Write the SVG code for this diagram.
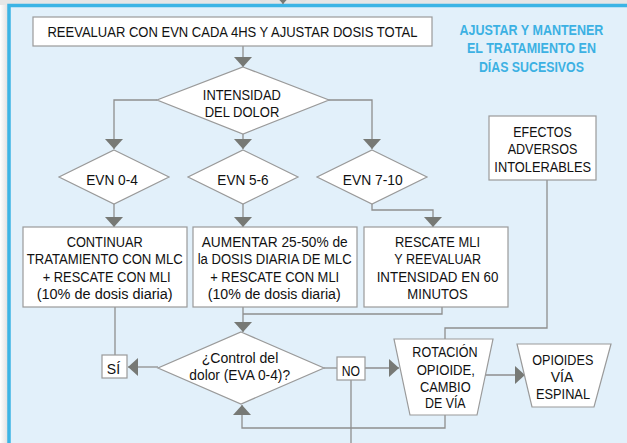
<svg xmlns="http://www.w3.org/2000/svg" width="627" height="443" viewBox="0 0 627 443">
<defs>
<style>
.box{fill:#fff;stroke:#9a9a9a;stroke-width:1.2}
.ln{fill:none;stroke:#8e8e8e;stroke-width:1.3}
text{font-family:"Liberation Sans",Arial,sans-serif;text-anchor:middle}
.t{font-size:15.5px;fill:#111}
.h{font-size:15.5px;font-weight:bold;fill:#3cb1e3}
</style>
<marker id="ah" markerUnits="userSpaceOnUse" markerWidth="10" markerHeight="18" refX="10" refY="9" orient="auto" viewBox="0 0 10 18">
<path d="M0,0 L10,9 L0,18 z" fill="#777975"/>
</marker>
<linearGradient id="sh" x1="0" y1="0" x2="1" y2="0"><stop offset="0" stop-color="#fff"/><stop offset="1" stop-color="#e0e0e0"/></linearGradient>
</defs>
<rect x="0" y="0" width="627" height="443" fill="#fff"/>
<rect x="0" y="0" width="8" height="443" fill="url(#sh)"/>
<rect x="0" y="0" width="627" height="5" fill="#e6e6e6"/>
<rect x="9" y="5.5" width="630" height="450" fill="#e2f0fa" stroke="#3cb4e5" stroke-width="3.5"/>

<g id="connectors">
<path class="ln" d="M283,-8 V4" marker-end="url(#ah)"/>
<path class="ln" d="M243,46 V67" marker-end="url(#ah)"/>
<path class="ln" d="M157,100 H114 V149" marker-end="url(#ah)"/>
<path class="ln" d="M243,134 V149" marker-end="url(#ah)"/>
<path class="ln" d="M328,100 H372 V149" marker-end="url(#ah)"/>
<path class="ln" d="M114,204 V227" marker-end="url(#ah)"/>
<path class="ln" d="M243,204 V227" marker-end="url(#ah)"/>
<path class="ln" d="M372,204 V210 H433 V227" marker-end="url(#ah)"/>
<path class="ln" d="M115,307 V355"/>
<path class="ln" d="M158,367 H128" marker-end="url(#ah)"/>
<path class="ln" d="M243,307 V332" marker-end="url(#ah)"/>
<path class="ln" d="M442,307 V314 H243"/>
<path class="ln" d="M445,415 V428 H242 V405" marker-end="url(#ah)"/>
<path class="ln" d="M324,368 H337"/>
<path class="ln" d="M365,368 H399" marker-end="url(#ah)"/>
<path class="ln" d="M351,380 V443"/>
<path class="ln" d="M485,375 H525" marker-end="url(#ah)"/>
<path class="ln" d="M547,180 V328 H445 V339"/>
</g>

<g id="title" transform="translate(531.4,0) scale(0.81,1)">
<text class="h" x="0" y="35" textLength="177.8" lengthAdjust="spacingAndGlyphs">AJUSTAR Y MANTENER</text>
<text class="h" x="0" y="53.3" textLength="159.3" lengthAdjust="spacingAndGlyphs">EL TRATAMIENTO EN</text>
<text class="h" x="0" y="72" textLength="129.6" lengthAdjust="spacingAndGlyphs">DÍAS SUCESIVOS</text>
</g>

<g id="reevaluar">
<rect class="box" x="33" y="17" width="399" height="29"/>
<g transform="translate(232.5,0) scale(0.843,1)">
<text class="t" x="0" y="37.3" textLength="439" lengthAdjust="spacingAndGlyphs">REEVALUAR CON EVN CADA 4HS Y AJUSTAR DOSIS TOTAL</text>
</g>
</g>

<g id="intensidad">
<polygon class="box" points="243,67 329,100 243,134 157,100"/>
<text class="t" x="241.8" y="100" textLength="78" lengthAdjust="spacingAndGlyphs">INTENSIDAD</text>
<text class="t" x="242" y="116.7" textLength="74.7" lengthAdjust="spacingAndGlyphs">DEL DOLOR</text>
</g>

<g id="evn04">
<polygon class="box" points="114,150 169,177 114,204 59,177"/>
<text class="t" x="112" y="185" textLength="51.7" lengthAdjust="spacingAndGlyphs">EVN 0-4</text>
</g>
<g id="evn56">
<polygon class="box" points="243,150 298,177 243,204 188,177"/>
<text class="t" x="243" y="185" textLength="51.3" lengthAdjust="spacingAndGlyphs">EVN 5-6</text>
</g>
<g id="evn710">
<polygon class="box" points="372,150 427,177 372,204 317,177"/>
<text class="t" x="372.7" y="185" textLength="60" lengthAdjust="spacingAndGlyphs">EVN 7-10</text>
</g>

<g id="efectos">
<rect class="box" x="489" y="116" width="107" height="64"/>
<text class="t" x="542.5" y="137.3" textLength="58.3" lengthAdjust="spacingAndGlyphs">EFECTOS</text>
<text class="t" x="542.5" y="154" textLength="69.7" lengthAdjust="spacingAndGlyphs">ADVERSOS</text>
<text class="t" x="542.7" y="171.7" textLength="96.7" lengthAdjust="spacingAndGlyphs">INTOLERABLES</text>
</g>

<g id="continuar">
<rect class="box" x="23" y="227" width="164" height="80"/>
<text class="t" x="104.7" y="246.7" textLength="76" lengthAdjust="spacingAndGlyphs">CONTINUAR</text>
<text class="t" x="104.7" y="264" textLength="156" lengthAdjust="spacingAndGlyphs">TRATAMIENTO CON MLC</text>
<text class="t" x="106.7" y="281.5" textLength="128" lengthAdjust="spacingAndGlyphs">+ RESCATE CON MLI</text>
<text class="t" x="104.7" y="298.5" textLength="136" lengthAdjust="spacingAndGlyphs">(10% de dosis diaria)</text>
</g>

<g id="aumentar">
<rect class="box" x="193" y="227" width="164" height="80"/>
<text class="t" x="274.7" y="246.7" textLength="146" lengthAdjust="spacingAndGlyphs">AUMENTAR 25-50% de</text>
<text class="t" x="274.7" y="264" textLength="154" lengthAdjust="spacingAndGlyphs">la DOSIS DIARIA DE MLC</text>
<text class="t" x="274.7" y="281.5" textLength="129" lengthAdjust="spacingAndGlyphs">+ RESCATE CON MLI</text>
<text class="t" x="274.2" y="298.5" textLength="133" lengthAdjust="spacingAndGlyphs">(10% de dosis diaria)</text>
</g>

<g id="rescate">
<rect class="box" x="364" y="227" width="144" height="80"/>
<text class="t" x="437.5" y="246.7" textLength="85" lengthAdjust="spacingAndGlyphs">RESCATE MLI</text>
<text class="t" x="437.7" y="264" textLength="86.7" lengthAdjust="spacingAndGlyphs">Y REEVALUAR</text>
<text class="t" x="437.5" y="281.5" textLength="121.7" lengthAdjust="spacingAndGlyphs">INTENSIDAD EN 60</text>
<text class="t" x="437.5" y="299" textLength="60.3" lengthAdjust="spacingAndGlyphs">MINUTOS</text>
</g>

<g id="si">
<rect class="box" x="102" y="355" width="25" height="23"/>
<text class="t" x="113.5" y="374" textLength="13.3" lengthAdjust="spacingAndGlyphs">SÍ</text>
</g>

<g id="control">
<polygon class="box" points="241,332 324,368 241,404 158,368"/>
<text class="t" x="240" y="362.7" textLength="76.7" lengthAdjust="spacingAndGlyphs">¿Control del</text>
<text class="t" x="239.7" y="380" textLength="100.7" lengthAdjust="spacingAndGlyphs">dolor (EVA 0-4)?</text>
</g>

<g id="no">
<rect class="box" x="337" y="357" width="28" height="23"/>
<text class="t" x="350.8" y="376" textLength="18.3" lengthAdjust="spacingAndGlyphs">NO</text>
</g>

<g id="rotacion">
<polygon class="box" points="394,339 493,339 477,415 410,415"/>
<text class="t" x="445" y="357.3" textLength="65.3" lengthAdjust="spacingAndGlyphs">ROTACIÓN</text>
<text class="t" x="445.8" y="375" textLength="58.3" lengthAdjust="spacingAndGlyphs">OPIOIDE,</text>
<text class="t" x="445.3" y="392.3" textLength="50.7" lengthAdjust="spacingAndGlyphs">CAMBIO</text>
<text class="t" x="445.3" y="408.3" textLength="40.7" lengthAdjust="spacingAndGlyphs">DE VÍA</text>
</g>

<g id="espinal">
<polygon class="box" points="517,344 611,344 594,407 532,407"/>
<text class="t" x="562.8" y="365" textLength="61" lengthAdjust="spacingAndGlyphs">OPIOIDES</text>
<text class="t" x="562" y="381.7" textLength="22.7" lengthAdjust="spacingAndGlyphs">VÍA</text>
<text class="t" x="563" y="399" textLength="54" lengthAdjust="spacingAndGlyphs">ESPINAL</text>
</g>
</svg>
